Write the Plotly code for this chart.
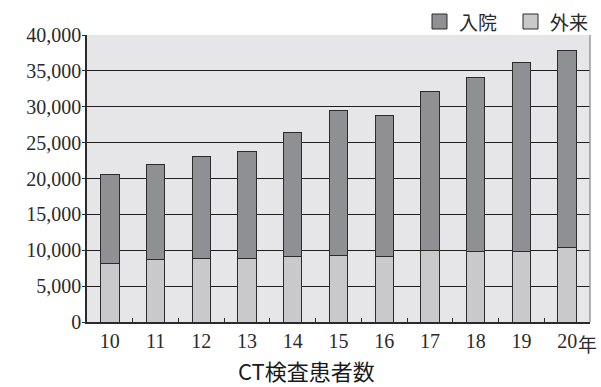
import plotly.graph_objects as go

# CT examinations per year, split into inpatients and outpatients
years = ["10", "11", "12", "13", "14", "15", "16", "17", "18", "19", "20"]
totals = [20600, 21900, 23000, 23800, 26400, 29500, 28800, 32100, 34100, 36100, 37800]
outpatient = [8100, 8700, 8900, 8900, 9100, 9300, 9100, 10000, 9800, 9800, 10400]
inpatient = [t - o for t, o in zip(totals, outpatient)]

y_ticks = [0, 5000, 10000, 15000, 20000, 25000, 30000, 35000, 40000]
y_ticktext = ["0", "5,000", "10,000", "15,000", "20,000", "25,000", "30,000", "35,000", "40,000"]

DARK = "#8f9094"
LIGHT = "#c9c9cb"
EDGE = "#2b2b2b"
TEXT = "#2a2a2a"
SERIF = "Liberation Serif, DejaVu Serif, serif"
JP = "Noto Sans CJK JP, sans-serif"

fig = go.Figure()
fig.add_trace(go.Bar(
    x=years, y=outpatient, name="外来",
    marker=dict(color=LIGHT, line=dict(color=EDGE, width=1)),
    width=0.4, showlegend=False,
))
fig.add_trace(go.Bar(
    x=years, y=inpatient, name="入院",
    marker=dict(color=DARK, line=dict(color=EDGE, width=1)),
    width=0.4, showlegend=False,
))

fig.update_layout(
    width=601, height=387,
    barmode="stack",
    paper_bgcolor="white",
    plot_bgcolor="#e6e6e8",
    margin=dict(l=87, r=11, t=35, b=65),
    font=dict(family=SERIF, color=TEXT),
)
fig.update_xaxes(
    type="category", range=[-0.5, 10.5],
    tickmode="array", tickvals=years, ticktext=years,
    tickson="boundaries", ticks="inside", ticklen=4, tickcolor=EDGE,
    showgrid=False, showline=True, linecolor=EDGE, linewidth=1.5,
    tickfont=dict(family=SERIF, size=20, color=TEXT),
    fixedrange=True,
)
fig.update_yaxes(
    range=[0, 40000],
    tickmode="array", tickvals=y_ticks, ticktext=y_ticktext,
    ticks="outside", ticklen=3, tickcolor=EDGE,
    ticklabelstandoff=-3,
    showgrid=True, gridcolor="#1e1e1e", gridwidth=1,
    showline=True, linecolor=EDGE, linewidth=1.5,
    tickfont=dict(family=SERIF, size=20, color=TEXT),
    zeroline=False,
)

# right frame edge
fig.add_shape(type="line", xref="paper", yref="paper", x0=1, x1=1, y0=0, y1=1,
              line=dict(color="#9a9a9a", width=1.5))

# year suffix after the last category label (category index of the last year)
fig.add_annotation(x=len(years) - 1, y=0, xref="x", yref="paper", text="年", showarrow=False,
                   xanchor="left", yanchor="top", xshift=9, yshift=-6,
                   font=dict(family=JP, size=19, color=TEXT))

# legend built from squares and labels
legend_items = [("入院", DARK, 432), ("外来", LIGHT, 523)]
for label, color, px in legend_items:
    fig.add_shape(type="rect", xref="paper", yref="paper",
                  x0=(px - 87) / 503, x1=(px + 15 - 87) / 503,
                  y0=(322 - 29) / 287, y1=(322 - 14) / 287,
                  fillcolor=color, line=dict(color=EDGE, width=1))
    fig.add_annotation(xref="paper", yref="paper", x=(px + 25 - 87) / 503, y=(322 - 21.5) / 287,
                       text=label, showarrow=False, xanchor="left", yanchor="middle",
                       font=dict(family=JP, size=19, color=TEXT))

# chart caption
fig.add_annotation(xref="paper", yref="paper", x=(306 - 87) / 503, y=(322 - 370) / 287,
                   text="CT検査患者数", showarrow=False, xanchor="center", yanchor="middle",
                   font=dict(family=JP, size=22, color="#1a1a1a"))

fig.write_html("out.html")
